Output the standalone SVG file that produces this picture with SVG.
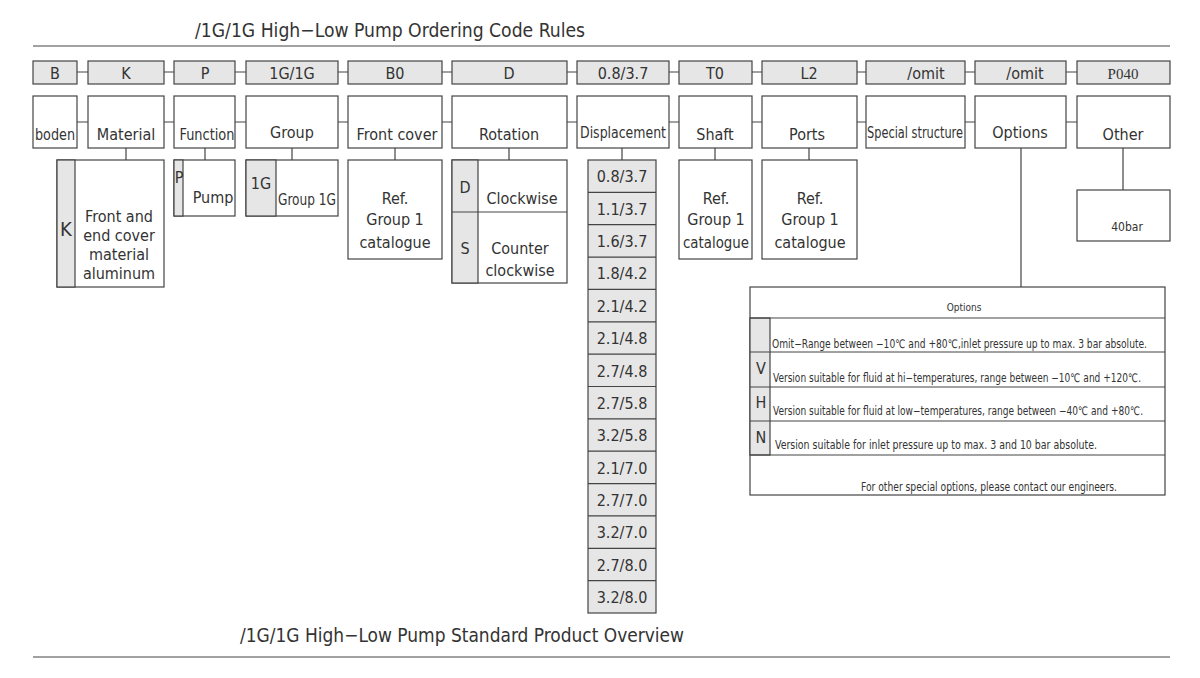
<svg xmlns="http://www.w3.org/2000/svg" width="1200" height="678" viewBox="0 0 1200 678">
<style>
text{font-family:"DejaVu Sans","Liberation Sans",sans-serif;font-stretch:condensed;fill:#333;font-size:16px;text-anchor:middle}
.b{fill:#fff;stroke:#444;stroke-width:1.2}
.g{fill:#e6e6e6;stroke:#444;stroke-width:1.2}
.l{stroke:#444;stroke-width:1.2;fill:none}
.s{font-size:11px}
.o{font-size:11.5px;text-anchor:start}
.t{font-size:20px;text-anchor:start}
</style>
<rect width="1200" height="678" fill="#fff"/>
<text class="t" x="195" y="37" textLength="390" lengthAdjust="spacingAndGlyphs">/1G/1G High−Low Pump Ordering Code Rules</text>
<line class="l" x1="33" y1="46" x2="1170" y2="46"/>
<text class="t" x="240" y="642" textLength="444" lengthAdjust="spacingAndGlyphs">/1G/1G High−Low Pump Standard Product Overview</text>
<line class="l" x1="33" y1="657" x2="1170" y2="657"/>
<g id="connectors">
<path class="l" d="M77 72H88M164 72H174M235 72H246M338 72H348M442 72H452M567 72H577M669 72H679M752 72H762M857 72H866M965 72H975M1066 72H1077"/>
<path class="l" d="M77 122H88M164 122H174M235 122H246M338 122H348M442 122H452M567 122H577M669 122H679M752 122H762M857 122H866M965 122H975M1066 122H1077"/>
<path class="l" d="M126 148V160M205 148V160M292 148V160M395 148V160M509 148V160M622 148V160M715 148V160M809 148V160M1123 148V190M1021 148V287"/>
</g>
<g id="codes">
<rect class="g" x="33" y="61" width="44" height="23"/><text x="55" y="79">B</text>
<rect class="g" x="88" y="61" width="76" height="23"/><text x="126" y="79">K</text>
<rect class="g" x="174" y="61" width="61" height="23"/><text x="205" y="79">P</text>
<rect class="g" x="246" y="61" width="92" height="23"/><text x="292" y="79">1G/1G</text>
<rect class="g" x="348" y="61" width="94" height="23"/><text x="395" y="79">B0</text>
<rect class="g" x="452" y="61" width="115" height="23"/><text x="509" y="79">D</text>
<rect class="g" x="577" y="61" width="92" height="23"/><text x="623" y="79">0.8/3.7</text>
<rect class="g" x="679" y="61" width="73" height="23"/><text x="715" y="79">T0</text>
<rect class="g" x="762" y="61" width="95" height="23"/><text x="809" y="79">L2</text>
<rect class="g" x="866" y="61" width="99" height="23"/><text x="926" y="79">/omit</text>
<rect class="g" x="975" y="61" width="91" height="23"/><text x="1025" y="79">/omit</text>
<rect class="g" x="1077" y="61" width="93" height="23"/><text x="1123" y="79" style="font-family:'Liberation Serif',serif;font-size:15px">P040</text>
</g>
<g id="labels">
<rect class="b" x="33" y="96" width="44" height="52"/><text x="55" y="140" textLength="40" lengthAdjust="spacingAndGlyphs">boden</text>
<rect class="b" x="88" y="96" width="76" height="52"/><text x="126" y="140">Material</text>
<rect class="b" x="174" y="96" width="61" height="52"/><text x="207" y="140" textLength="55" lengthAdjust="spacingAndGlyphs">Function</text>
<rect class="b" x="246" y="96" width="92" height="52"/><text x="292" y="138">Group</text>
<rect class="b" x="348" y="96" width="94" height="52"/><text x="397" y="140">Front cover</text>
<rect class="b" x="452" y="96" width="115" height="52"/><text x="509" y="140">Rotation</text>
<rect class="b" x="577" y="96" width="92" height="52"/><text x="623" y="138" textLength="86" lengthAdjust="spacingAndGlyphs">Displacement</text>
<rect class="b" x="679" y="96" width="73" height="52"/><text x="715" y="140">Shaft</text>
<rect class="b" x="762" y="96" width="95" height="52"/><text x="807" y="140">Ports</text>
<rect class="b" x="866" y="96" width="99" height="52"/><text x="915" y="138" textLength="96" lengthAdjust="spacingAndGlyphs">Special structure</text>
<rect class="b" x="975" y="96" width="91" height="52"/><text x="1020" y="138">Options</text>
<rect class="b" x="1077" y="96" width="93" height="52"/><text x="1123" y="140">Other</text>
</g>
<g id="material">
<rect class="b" x="57" y="160" width="107" height="127"/><rect class="g" x="57" y="160" width="18" height="127"/>
<text x="66" y="236" style="font-size:20px">K</text>
<text x="119" y="222">Front and</text><text x="119" y="241">end cover</text><text x="119" y="260">material</text><text x="119" y="279">aluminum</text>
</g>
<g id="function">
<rect class="b" x="174" y="160" width="61" height="56"/><rect class="g" x="174" y="160" width="9" height="56"/>
<text x="179" y="183">P</text><text x="213" y="203">Pump</text>
</g>
<g id="group">
<rect class="b" x="246" y="160" width="92" height="56"/><rect class="g" x="246" y="160" width="30" height="56"/>
<text x="261" y="189">1G</text><text x="307" y="205" textLength="58" lengthAdjust="spacingAndGlyphs">Group 1G</text>
</g>
<g id="frontcover">
<rect class="b" x="348" y="160" width="94" height="99"/>
<text x="395" y="204">Ref.</text><text x="395" y="225">Group 1</text><text x="395" y="248">catalogue</text>
</g>
<g id="rotation">
<rect class="b" x="452" y="160" width="115" height="123"/><rect class="g" x="452" y="160" width="26" height="123"/>
<line class="l" x1="452" y1="212" x2="567" y2="212"/>
<text x="465" y="193">D</text><text x="522" y="204">Clockwise</text>
<text x="465" y="254">S</text><text x="520" y="254">Counter</text><text x="520" y="276">clockwise</text>
</g>
<g id="displacement">
<rect class="g" x="588" y="160" width="68" height="453"/>
<path class="l" d="M588 192.4H656M588 224.7H656M588 257.1H656M588 289.4H656M588 321.8H656M588 354.1H656M588 386.5H656M588 418.9H656M588 451.2H656M588 483.6H656M588 515.9H656M588 548.3H656M588 580.6H656"/>
<text x="622" y="182">0.8/3.7</text><text x="622" y="215">1.1/3.7</text><text x="622" y="247">1.6/3.7</text><text x="622" y="279">1.8/4.2</text><text x="622" y="312">2.1/4.2</text><text x="622" y="344">2.1/4.8</text><text x="622" y="377">2.7/4.8</text><text x="622" y="409">2.7/5.8</text><text x="622" y="441">3.2/5.8</text><text x="622" y="474">2.1/7.0</text><text x="622" y="506">2.7/7.0</text><text x="622" y="538">3.2/7.0</text><text x="622" y="571">2.7/8.0</text><text x="622" y="603">3.2/8.0</text>
</g>
<g id="shaft">
<rect class="b" x="679" y="160" width="73" height="99"/>
<text x="716" y="204">Ref.</text><text x="716" y="225">Group 1</text><text x="716" y="248" textLength="66" lengthAdjust="spacingAndGlyphs">catalogue</text>
</g>
<g id="ports">
<rect class="b" x="762" y="160" width="95" height="99"/>
<text x="810" y="204">Ref.</text><text x="810" y="225">Group 1</text><text x="810" y="248">catalogue</text>
</g>
<g id="other">
<rect class="b" x="1077" y="190" width="93" height="51"/><text x="1127" y="231" style="font-size:12px">40bar</text>
</g>
<g id="options">
<rect class="b" x="750" y="287" width="415" height="208"/>
<rect class="g" x="750" y="318" width="20" height="137"/>
<path class="l" d="M750 318H1165M750 352H1165M750 387H1165M750 421H1165M750 455H1165"/>
<text x="964" y="311" style="font-size:10px">Options</text>
<text x="761" y="374">V</text><text x="761" y="408">H</text><text x="761" y="443">N</text>
<text class="o" x="772" y="348" textLength="375" lengthAdjust="spacingAndGlyphs">Omit−Range between −10℃ and +80℃,inlet pressure up to max. 3 bar absolute.</text>
<text class="o" x="773" y="382" textLength="368" lengthAdjust="spacingAndGlyphs">Version suitable for fluid at hi−temperatures, range between −10℃ and +120℃.</text>
<text class="o" x="773" y="415" textLength="370" lengthAdjust="spacingAndGlyphs">Version suitable for fluid at low−temperatures, range between −40℃ and +80℃.</text>
<text class="o" x="775" y="449" textLength="322" lengthAdjust="spacingAndGlyphs">Version suitable for inlet pressure up to max. 3 and 10 bar absolute.</text>
<text class="o" x="861" y="491" textLength="256" lengthAdjust="spacingAndGlyphs">For other special options, please contact our engineers.</text>
</g>
</svg>
